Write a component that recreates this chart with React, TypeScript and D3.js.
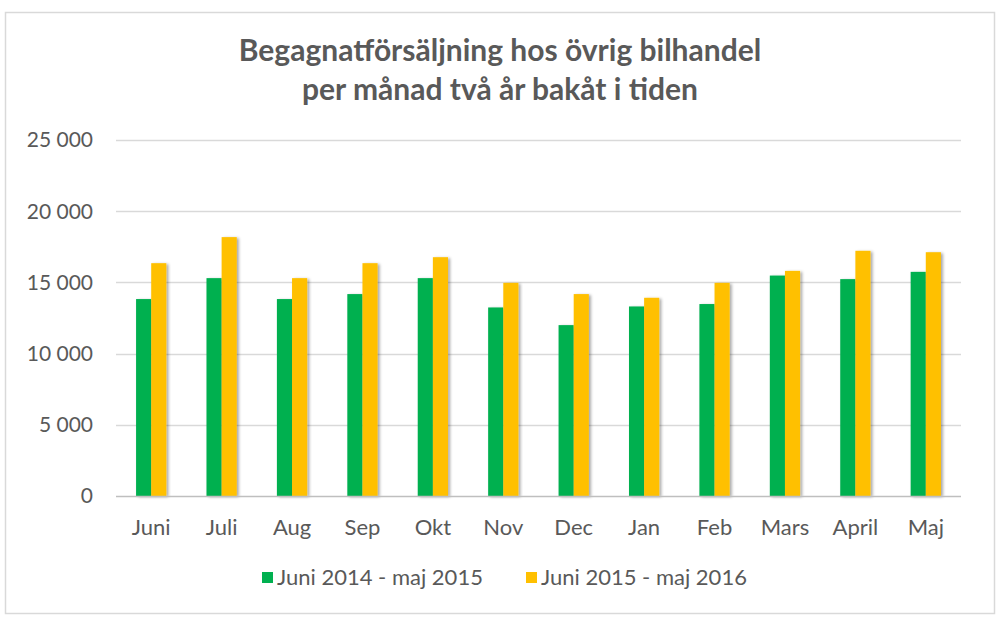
import { useEffect, useRef } from "react";
import * as d3 from "d3";

const months = ["Juni", "Juli", "Aug", "Sep", "Okt", "Nov", "Dec", "Jan", "Feb", "Mars", "April", "Maj"];
const series1 = [13830, 15300, 13830, 14180, 15300, 13240, 12000, 13310, 13480, 15480, 15230, 15740];
const series2 = [16350, 18180, 15300, 16350, 16770, 14970, 14180, 13920, 14970, 15810, 17220, 17120];
const seriesNames = ["Juni 2014 - maj 2015", "Juni 2015 - maj 2016"];
const colors = ["#00B050", "#FFC000"];
const yTicks = [0, 5000, 10000, 15000, 20000, 25000];

export default function App() {
  const svgRef = useRef<SVGSVGElement>(null);

  useEffect(() => {
    if (!svgRef.current) return;
    const width = 1000;
    const height = 622;
    const margin = { top: 140, right: 39, bottom: 126, left: 116 };
    const font = "Lato, 'Open Sans', sans-serif";
    const textColor = "#595959";

    const svg = d3.select(svgRef.current);
    svg.selectAll("*").remove();

    const defs = svg.append("defs");
    const filter = defs.append("filter").attr("id", "shadow")
      .attr("x", "-30%").attr("y", "-5%").attr("width", "160%").attr("height", "110%");
    filter.append("feDropShadow")
      .attr("dx", 2).attr("dy", 1).attr("stdDeviation", 1.5)
      .attr("flood-color", "#000").attr("flood-opacity", 0.35);

    svg.append("rect").attr("width", width).attr("height", height).attr("fill", "#fff");
    svg.append("rect")
      .attr("x", 5.5).attr("y", 12.5).attr("width", 989).attr("height", 601)
      .attr("fill", "#fff").attr("stroke", "#d9d9d9").attr("stroke-width", 1.5);

    const x0 = d3.scaleBand<string>()
      .domain(months)
      .range([margin.left, width - margin.right])
      .paddingInner(0.57)
      .paddingOuter(0.285);
    const x1 = d3.scaleBand<number>()
      .domain([0, 1])
      .range([0, x0.bandwidth()]);
    const y = d3.scaleLinear()
      .domain([0, 25000])
      .range([height - margin.bottom, margin.top]);

    // gridlines
    svg.append("g")
      .selectAll("line")
      .data(yTicks.slice(1))
      .join("line")
      .attr("x1", margin.left).attr("x2", width - margin.right)
      .attr("y1", d => Math.round(y(d)) + 0.5).attr("y2", d => Math.round(y(d)) + 0.5)
      .attr("stroke", "#d9d9d9").attr("stroke-width", 1.3);

    const fmt = (d: number) => d === 0 ? "0" : d3.format(",")(d).replace(",", " ");

    svg.append("g")
      .selectAll("text")
      .data(yTicks)
      .join("text")
      .attr("x", 93).attr("y", d => y(d))
      .attr("dy", "0.35em")
      .attr("text-anchor", "end")
      .attr("font-family", font).attr("font-size", 21)
      .attr("fill", textColor)
      .text(d => fmt(d));

    const groups = svg.append("g")
      .selectAll("g")
      .data(months)
      .join("g")
      .attr("transform", d => `translate(${x0(d)},0)`);

    groups.selectAll("rect")
      .data((_, i) => [series1[i], series2[i]])
      .join("rect")
      .attr("x", (_, j) => x1(j) as number)
      .attr("y", d => y(d))
      .attr("width", x1.bandwidth())
      .attr("height", d => y(0) - y(d))
      .attr("fill", (_, j) => colors[j])
      .attr("filter", "url(#shadow)");

    // baseline
    svg.append("line")
      .attr("x1", margin.left).attr("x2", width - margin.right)
      .attr("y1", Math.round(y(0)) + 0.5).attr("y2", Math.round(y(0)) + 0.5)
      .attr("stroke", "#bfbfbf").attr("stroke-width", 1.5);

    svg.append("g")
      .selectAll("text")
      .data(months)
      .join("text")
      .attr("x", d => (x0(d) as number) + x0.bandwidth() / 2)
      .attr("y", 535)
      .attr("text-anchor", "middle")
      .attr("font-family", font).attr("font-size", 22)
      .attr("fill", textColor)
      .text(d => d);

    // title
    const title = svg.append("text")
      .attr("text-anchor", "middle")
      .attr("font-family", font).attr("font-size", 30).attr("font-weight", "bold")
      .attr("fill", textColor);
    title.append("tspan").attr("x", 500).attr("y", 61).text("Begagnatförsäljning hos övrig bilhandel");
    title.append("tspan").attr("x", 500).attr("y", 100).text("per månad två år bakåt i tiden");

    // legend
    const legendX = [262, 526];
    const legend = svg.append("g")
      .selectAll("g")
      .data(seriesNames)
      .join("g")
      .attr("transform", (_, i) => `translate(${legendX[i]},572)`);
    legend.append("rect")
      .attr("width", 11).attr("height", 11)
      .attr("fill", (_, i) => colors[i]);
    legend.append("text")
      .attr("x", 15).attr("y", 5.5).attr("dy", "0.35em")
      .attr("font-family", font).attr("font-size", 22)
      .attr("fill", textColor)
      .text(d => d);
  }, []);

  return (
    <div style={{ position: "absolute", top: 0, left: 0 }}>
      <svg ref={svgRef} width={1000} height={622} style={{ display: "block" }} />
    </div>
  );
}
